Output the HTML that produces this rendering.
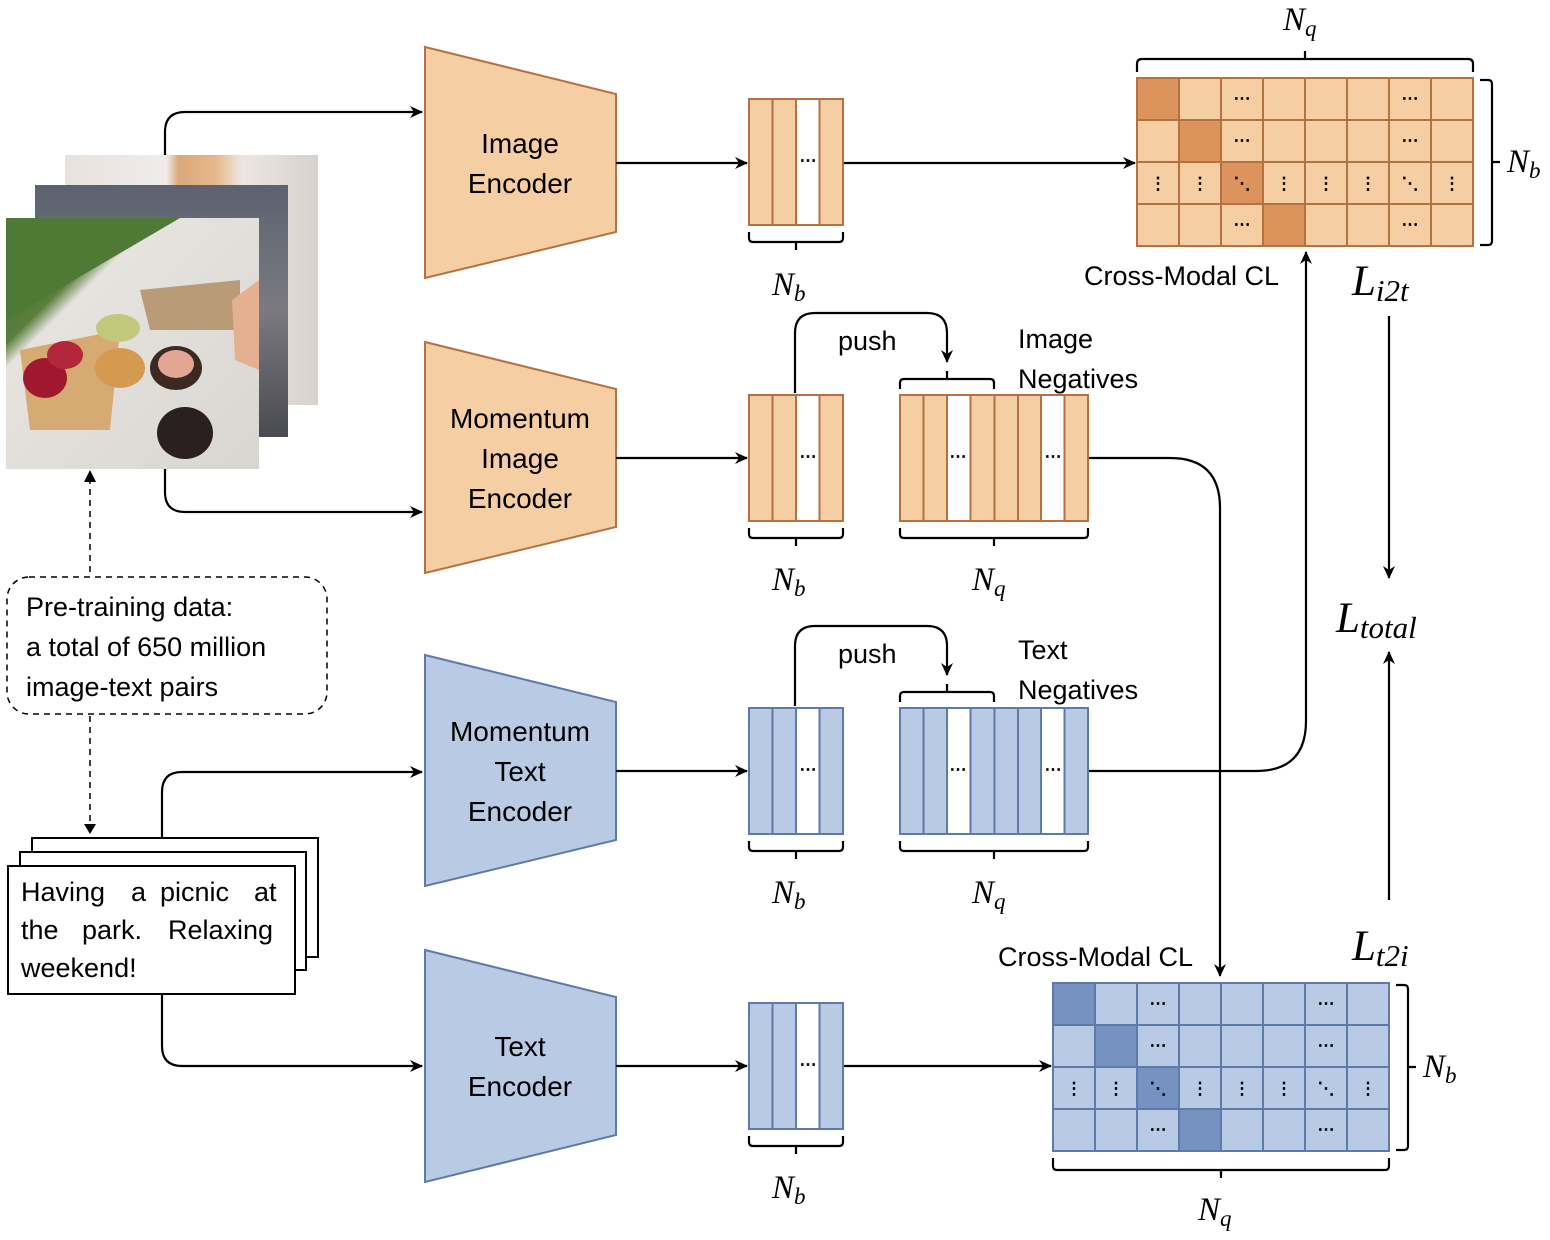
<!DOCTYPE html>
<html><head><meta charset="utf-8"><style>
html,body{margin:0;padding:0;background:#fff;}
svg{display:block;}
.t{font-family:"Liberation Sans",sans-serif;font-size:27px;fill:#000;}
.e{font-family:"Liberation Sans",sans-serif;font-size:28px;fill:#000;text-anchor:middle;}
.m{font-family:"Liberation Serif",serif;font-style:italic;fill:#000;}
.d{font-family:"Liberation Sans",sans-serif;font-size:17px;font-weight:bold;fill:#000;text-anchor:middle;}
</style></head><body>
<svg width="1550" height="1240" viewBox="0 0 1550 1240" xmlns="http://www.w3.org/2000/svg">
<defs>
<marker id="a" markerWidth="14" markerHeight="12" refX="12" refY="6" orient="auto" markerUnits="userSpaceOnUse">
<path d="M0,0 L13,6 L0,12 L4,6 Z" fill="#000"/></marker>
<linearGradient id="g1" x1="0" y1="0" x2="1" y2="0"><stop offset="0" stop-color="#e8e2de"/><stop offset="0.4" stop-color="#f0ecea"/><stop offset="0.45" stop-color="#d9a878"/><stop offset="0.6" stop-color="#e6b98c"/><stop offset="0.7" stop-color="#ece6e2"/><stop offset="1" stop-color="#d8d2ce"/></linearGradient>
<linearGradient id="g2" x1="0" y1="0" x2="0" y2="1"><stop offset="0" stop-color="#5c6270"/><stop offset="0.5" stop-color="#7b7a80"/><stop offset="1" stop-color="#4a4a52"/></linearGradient>
<linearGradient id="g3" x1="0" y1="0" x2="1" y2="1"><stop offset="0" stop-color="#3f6a2c"/><stop offset="0.25" stop-color="#5a7f3c"/><stop offset="0.3" stop-color="#e6e3df"/><stop offset="1" stop-color="#d9d6d2"/></linearGradient>
</defs>

<!-- photos -->
<rect x="65" y="155" width="253" height="250" fill="url(#g1)"/>
<rect x="35" y="185" width="253" height="252" fill="url(#g2)"/>
<rect x="6" y="218" width="253" height="251" fill="url(#g3)"/>
<path d="M6,218 H180 L6,320 Z" fill="#4f7a35"/>
<path d="M140,290 L240,280 L240,330 L150,330 Z" fill="#b99b78"/>
<path d="M20,350 L120,330 L110,430 L30,430 Z" fill="#d6ab73"/>
<ellipse cx="45" cy="378" rx="22" ry="20" fill="#a0182e"/>
<ellipse cx="65" cy="355" rx="18" ry="14" fill="#b3263c"/>
<ellipse cx="118" cy="328" rx="22" ry="14" fill="#c2c77a"/>
<ellipse cx="120" cy="368" rx="25" ry="20" fill="#d49a50"/>
<ellipse cx="176" cy="368" rx="26" ry="22" fill="#3a2a22"/>
<ellipse cx="176" cy="364" rx="18" ry="14" fill="#e4a694"/>
<ellipse cx="185" cy="433" rx="28" ry="26" fill="#2a2020"/>
<path d="M232,300 L259,280 L259,370 L235,360 Z" fill="#e4b090"/>

<!-- dashed -->
<path d="M90,478 V575" stroke="#000" stroke-width="1.5" stroke-dasharray="6,5" fill="none"/>
<path d="M84,482 L90,470 L96,482 Z" fill="#000"/>
<rect x="7" y="577" width="320" height="137" rx="22" fill="#fff" stroke="#000" stroke-width="1.5" stroke-dasharray="6,5"/>
<text class="t" x="26" y="616">Pre-training data:</text>
<text class="t" x="26" y="656">a total of 650 million</text>
<text class="t" x="26" y="696">image-text pairs</text>
<path d="M90,716 V826" stroke="#000" stroke-width="1.5" stroke-dasharray="6,5" fill="none"/>
<path d="M84,824 L90,834 L96,824 Z" fill="#000"/>

<!-- text cards -->
<rect x="32" y="838" width="286" height="119" fill="#fff" stroke="#000" stroke-width="2"/>
<rect x="20" y="852" width="286" height="118" fill="#fff" stroke="#000" stroke-width="2"/>
<rect x="8" y="866" width="287" height="128" fill="#fff" stroke="#000" stroke-width="2"/>
<text class="t" y="901"><tspan x="21">Having</tspan><tspan x="131">a</tspan><tspan x="160">picnic</tspan><tspan x="254">at</tspan></text>
<text class="t" y="939"><tspan x="21">the</tspan><tspan x="82">park.</tspan><tspan x="168">Relaxing</tspan></text>
<text class="t" x="21" y="977">weekend!</text>

<!-- input connectors -->
<g stroke="#000" stroke-width="2.2" fill="none">
<path d="M165,155 V132 Q165,112 185,112 H422" marker-end="url(#a)"/>
<path d="M165,469 V492 Q165,512 185,512 H422" marker-end="url(#a)"/>
<path d="M162,837 V792 Q162,772 182,772 H422" marker-end="url(#a)"/>
<path d="M162,995 V1046 Q162,1066 182,1066 H422" marker-end="url(#a)"/>
</g>

<!-- encoders -->
<g stroke-width="2">
<path d="M425,47 L616,94 L616,232 L425,278 Z" fill="#f5cfa3" stroke="#b5713f"/>
<path d="M425,342 L616,389 L616,527 L425,573 Z" fill="#f5cfa3" stroke="#b5713f"/>
<path d="M425,655 L616,702 L616,840 L425,886 Z" fill="#b9cbe4" stroke="#5d7aa8"/>
<path d="M425,950 L616,997 L616,1135 L425,1182 Z" fill="#b9cbe4" stroke="#5d7aa8"/>
</g>
<text class="e" x="520" y="153">Image</text>
<text class="e" x="520" y="193">Encoder</text>
<text class="e" x="520" y="428">Momentum</text>
<text class="e" x="520" y="468">Image</text>
<text class="e" x="520" y="508">Encoder</text>
<text class="e" x="520" y="741">Momentum</text>
<text class="e" x="520" y="781">Text</text>
<text class="e" x="520" y="821">Encoder</text>
<text class="e" x="520" y="1056">Text</text>
<text class="e" x="520" y="1096">Encoder</text>

<!-- arrows -->
<g stroke="#000" stroke-width="2.2" fill="none">
<path d="M616,163 H747" marker-end="url(#a)"/>
<path d="M616,458 H747" marker-end="url(#a)"/>
<path d="M616,771 H747" marker-end="url(#a)"/>
<path d="M616,1066 H747" marker-end="url(#a)"/>
<path d="M843,163 H1135" marker-end="url(#a)"/>
<path d="M843,1066 H1051" marker-end="url(#a)"/>
<path d="M1088,458 H1170 Q1220,458 1220,508 V976" marker-end="url(#a)"/>
<path d="M1088,771 H1256 Q1306,771 1306,721 V252" marker-end="url(#a)"/>
<path d="M795,393 V333 Q795,313 815,313 H927 Q947,313 947,333 V362" marker-end="url(#a)"/>
<path d="M795,706 V646 Q795,626 815,626 H927 Q947,626 947,646 V675" marker-end="url(#a)"/>
<path d="M1389,316 V578" marker-end="url(#a)"/>
<path d="M1389,900 V652" marker-end="url(#a)"/>
</g>

<!-- feature boxes -->
<g stroke-width="2">
<g fill="#f5cfa3" stroke="#b5713f">
<rect x="749" y="99" width="94" height="126"/>
<rect x="749" y="395" width="94" height="126"/>
<rect x="900" y="395" width="188" height="126"/>
</g>
<g fill="#b9cbe4" stroke="#5d7aa8">
<rect x="749" y="708" width="94" height="126"/>
<rect x="749" y="1003" width="94" height="126"/>
<rect x="900" y="708" width="188" height="126"/>
</g>
<g fill="#fff" stroke="#b5713f">
<rect x="796" y="99" width="23.5" height="126"/>
<rect x="796" y="395" width="23.5" height="126"/>
<rect x="947" y="395" width="23.5" height="126"/>
<rect x="1041" y="395" width="23.5" height="126"/>
</g>
<g fill="#fff" stroke="#5d7aa8">
<rect x="796" y="708" width="23.5" height="126"/>
<rect x="796" y="1003" width="23.5" height="126"/>
<rect x="947" y="708" width="23.5" height="126"/>
<rect x="1041" y="708" width="23.5" height="126"/>
</g>
<g stroke="#b5713f">
<path d="M772.5,99V225 M772.5,395V521 M923.5,395V521 M994.5,395V521 M1018,395V521"/>
</g>
<g stroke="#5d7aa8">
<path d="M772.5,708V834 M772.5,1003V1129 M923.5,708V834 M994.5,708V834 M1018,708V834"/>
</g>
</g>
<g class="d">
<text x="808" y="166">⋯</text><text x="808" y="462">⋯</text><text x="958" y="462">⋯</text><text x="1053" y="462">⋯</text>
<text x="808" y="775">⋯</text><text x="808" y="1070">⋯</text><text x="958" y="775">⋯</text><text x="1053" y="775">⋯</text>
</g>

<!-- braces -->
<g stroke="#000" stroke-width="2.2" fill="none">
<path d="M749,232 v6 q0,4 4,4 h86 q4,0 4,-4 v-6 M796,242 v8"/>
<path d="M749,528 v6 q0,4 4,4 h86 q4,0 4,-4 v-6 M796,538 v8"/>
<path d="M900,528 v6 q0,4 4,4 h180 q4,0 4,-4 v-6 M994,538 v8"/>
<path d="M749,841 v6 q0,4 4,4 h86 q4,0 4,-4 v-6 M796,851 v8"/>
<path d="M900,841 v6 q0,4 4,4 h180 q4,0 4,-4 v-6 M994,851 v8"/>
<path d="M749,1136 v6 q0,4 4,4 h86 q4,0 4,-4 v-6 M796,1146 v8"/>
<path d="M900,389 v-6 q0,-4 4,-4 h86 q4,0 4,4 v6 M947,379 v-8"/>
<path d="M900,702 v-6 q0,-4 4,-4 h86 q4,0 4,4 v6 M947,692 v-8"/>
<path d="M1137,72 v-8 q0,-5 5,-5 h326 q5,0 5,5 v8 M1305,59 v-8"/>
<path d="M1480,80 h8 q4,0 4,4 v157 q0,4 -4,4 h-8 M1492,162 h8"/>
<path d="M1053,1158 v8 q0,4 4,4 h328 q4,0 4,-4 v-8 M1221,1170 v8"/>
<path d="M1396,985 h8 q4,0 4,4 v157 q0,4 -4,4 h-8 M1408,1067 h8"/>
</g>

<!-- labels -->
<text class="t" x="838" y="350">push</text>
<text class="t" x="838" y="663">push</text>
<text class="t" x="1018" y="348">Image</text>
<text class="t" x="1018" y="388">Negatives</text>
<text class="t" x="1018" y="659">Text</text>
<text class="t" x="1018" y="699">Negatives</text>
<text class="t" x="1084" y="285">Cross-Modal CL</text>
<text class="t" x="998" y="966">Cross-Modal CL</text>

<g class="m" font-size="33">
<text x="772" y="295">N<tspan font-size="23" dy="6">b</tspan></text>
<text x="772" y="590">N<tspan font-size="23" dy="6">b</tspan></text>
<text x="772" y="903">N<tspan font-size="23" dy="6">b</tspan></text>
<text x="772" y="1198">N<tspan font-size="23" dy="6">b</tspan></text>
<text x="972" y="590">N<tspan font-size="23" dy="6">q</tspan></text>
<text x="972" y="903">N<tspan font-size="23" dy="6">q</tspan></text>
<text x="1283" y="30">N<tspan font-size="23" dy="6">q</tspan></text>
<text x="1198" y="1220">N<tspan font-size="23" dy="6">q</tspan></text>
<text x="1507" y="172">N<tspan font-size="23" dy="6">b</tspan></text>
<text x="1423" y="1077">N<tspan font-size="23" dy="6">b</tspan></text>
</g>
<g class="m" font-size="43">
<text x="1352" y="295">L<tspan font-size="31" dy="6">i2t</tspan></text>
<text x="1336" y="632">L<tspan font-size="31" dy="6">total</tspan></text>
<text x="1352" y="960">L<tspan font-size="31" dy="6">t2i</tspan></text>
</g>

<!-- top matrix -->
<rect x="1137" y="78" width="336" height="168" fill="#f5cfa3"/>
<g fill="#dc945c">
<rect x="1137" y="78" width="42" height="42"/><rect x="1179" y="120" width="42" height="42"/>
<rect x="1221" y="162" width="42" height="42"/><rect x="1263" y="204" width="42" height="42"/>
</g>
<g stroke="#b5713f" stroke-width="2" fill="none">
<rect x="1137" y="78" width="336" height="168"/>
<path d="M1179,78V246 M1221,78V246 M1263,78V246 M1305,78V246 M1347,78V246 M1389,78V246 M1431,78V246 M1137,120H1473 M1137,162H1473 M1137,204H1473"/>
</g>
<g class="d">
<text x="1242" y="104">⋯</text><text x="1410" y="104">⋯</text>
<text x="1242" y="146">⋯</text><text x="1410" y="146">⋯</text>
<text x="1242" y="230">⋯</text><text x="1410" y="230">⋯</text>
<text x="1158" y="189">⋮</text><text x="1200" y="189">⋮</text><text x="1242" y="189">⋱</text><text x="1284" y="189">⋮</text>
<text x="1326" y="189">⋮</text><text x="1368" y="189">⋮</text><text x="1410" y="189">⋱</text><text x="1452" y="189">⋮</text>
</g>

<!-- bottom matrix -->
<rect x="1053" y="983" width="336" height="168" fill="#b9cbe4"/>
<g fill="#7592c0">
<rect x="1053" y="983" width="42" height="42"/><rect x="1095" y="1025" width="42" height="42"/>
<rect x="1137" y="1067" width="42" height="42"/><rect x="1179" y="1109" width="42" height="42"/>
</g>
<g stroke="#5d7aa8" stroke-width="2" fill="none">
<rect x="1053" y="983" width="336" height="168"/>
<path d="M1095,983V1151 M1137,983V1151 M1179,983V1151 M1221,983V1151 M1263,983V1151 M1305,983V1151 M1347,983V1151 M1053,1025H1389 M1053,1067H1389 M1053,1109H1389"/>
</g>
<g class="d">
<text x="1158" y="1009">⋯</text><text x="1326" y="1009">⋯</text>
<text x="1158" y="1051">⋯</text><text x="1326" y="1051">⋯</text>
<text x="1158" y="1135">⋯</text><text x="1326" y="1135">⋯</text>
<text x="1074" y="1094">⋮</text><text x="1116" y="1094">⋮</text><text x="1158" y="1094">⋱</text><text x="1200" y="1094">⋮</text>
<text x="1242" y="1094">⋮</text><text x="1284" y="1094">⋮</text><text x="1326" y="1094">⋱</text><text x="1368" y="1094">⋮</text>
</g>
</svg>
</body></html>
